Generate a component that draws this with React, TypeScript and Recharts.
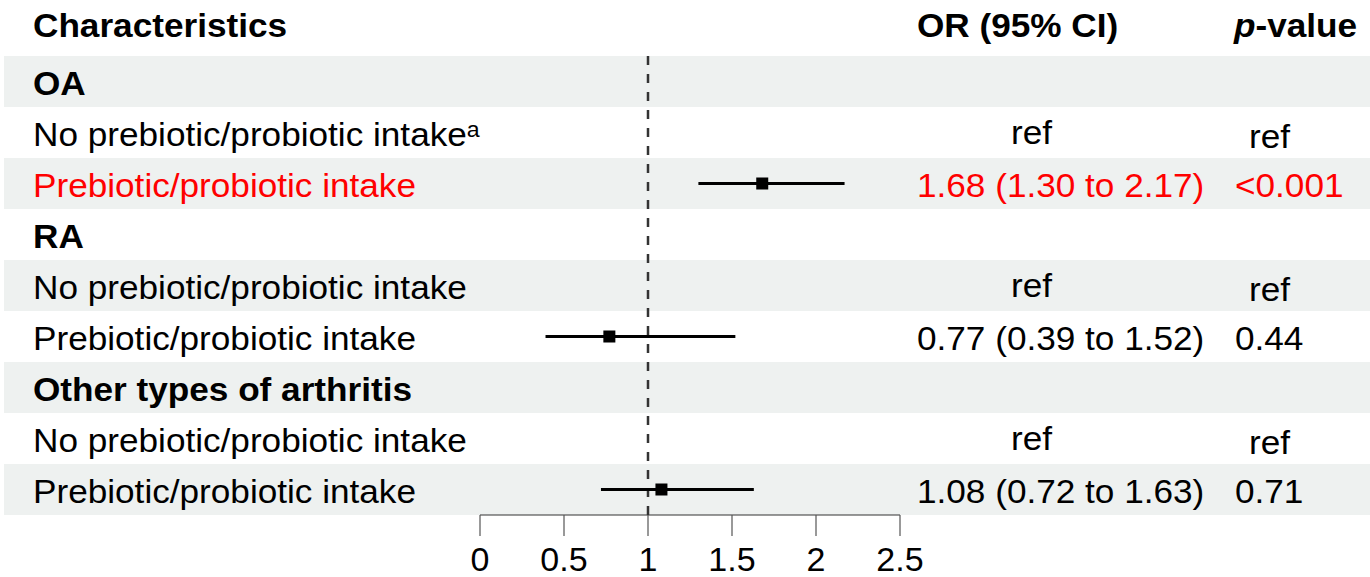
import React from "react"
import { ScatterChart, Scatter, XAxis, YAxis, ReferenceArea, ReferenceLine } from "recharts"

// table rows, top to bottom
const rowLabels = [
  "OA",
  "No prebiotic/probiotic intake",
  "Prebiotic/probiotic intake",
  "RA",
  "No prebiotic/probiotic intake",
  "Prebiotic/probiotic intake",
  "Other types of arthritis",
  "No prebiotic/probiotic intake",
  "Prebiotic/probiotic intake",
]
const groupRows = [true, false, false, true, false, false, true, false, false]
const superscripts = ["", "a", "", "", "", "", "", "", ""]
const orLabels = ["", "ref", "1.68 (1.30 to 2.17)", "", "ref", "0.77 (0.39 to 1.52)", "", "ref", "1.08 (0.72 to 1.63)"]
const pLabels = ["", "ref", "<0.001", "", "ref", "0.44", "", "ref", "0.71"]
const estimates = [null, null, 1.68, null, null, 0.77, null, null, 1.08]
const lowerCI = [null, null, 1.3, null, null, 0.39, null, null, 0.72]
const upperCI = [null, null, 2.17, null, null, 1.52, null, null, 1.63]
const highlighted = [false, false, true, false, false, false, false, false, false]
const shadedRows = [true, false, true, false, true, false, true, false, true]
const headers = ["Characteristics", "OR (95% CI)", "p", "-value"]
const xTicks = [0, 0.5, 1, 1.5, 2, 2.5]

const FONT = "'Liberation Sans', Arial, Helvetica, sans-serif"
const FS = 33.5
const RED = "#ff0000"
const BAND = "#eef1f0"

const points = estimates
  .map((est, i) => ({ est, row: i + 0.5 }))
  .filter((d) => d.est !== null)

const Txt = ({ x, y, fill = "#000", bold = false, children }: any) => (
  <text
    transform={`translate(${x},${y}) scale(1.05,1)`}
    fontFamily={FONT}
    fontSize={FS}
    fontWeight={bold ? "bold" : "normal"}
    fill={fill}
  >
    {children}
  </text>
)

const rowShape = (i: number) => (props: any) => {
  const { y, height } = props
  const base = y + height / 2 + 13
  const color = highlighted[i] ? RED : "#000"
  const isRef = orLabels[i] === "ref"
  return (
    <g>
      {shadedRows[i] && <rect x={4} y={y} width={1366} height={height} fill={BAND} />}
      <Txt x={33} y={base} fill={color} bold={groupRows[i]}>
        {rowLabels[i]}
        {superscripts[i] && (
          <tspan fontSize={22} dy={-9}>
            {superscripts[i]}
          </tspan>
        )}
      </Txt>
      {orLabels[i] && (
        <Txt x={isRef ? 1011 : 917} y={base - (isRef ? 2 : 0)} fill={color}>
          {orLabels[i]}
        </Txt>
      )}
      {pLabels[i] && (
        <Txt x={pLabels[i] === "ref" ? 1249 : 1235} y={base + (pLabels[i] === "ref" ? 2 : 0)} fill={color}>
          {pLabels[i]}
        </Txt>
      )}
    </g>
  )
}

const headerShape = (props: any) => {
  const base = props.y + 32
  return (
    <g>
      <Txt x={33} y={base} bold>
        {headers[0]}
      </Txt>
      <Txt x={917} y={base} bold>
        {headers[1]}
      </Txt>
      <Txt x={1234} y={base} bold>
        <tspan fontStyle="italic">{headers[2]}</tspan>
        {headers[3]}
      </Txt>
    </g>
  )
}

const Square = (props: any) => {
  const { cx, cy } = props
  return <rect x={cx - 6} y={cy - 6} width={12} height={12} fill="#000" />
}

export default function App() {
  return (
    <div style={{ position: "absolute", left: 0, top: 0, background: "#fff" }}>
      <ScatterChart width={1370} height={577} margin={{ top: 5, right: 470, bottom: 0, left: 480 }}>
        <XAxis
          type="number"
          dataKey="est"
          domain={[0, 2.5]}
          ticks={xTicks}
          interval={0}
          height={62}
          tickSize={21}
          tickMargin={11}
          axisLine={{ stroke: "#333", strokeWidth: 1.2 }}
          tickLine={{ stroke: "#555", strokeWidth: 1.2 }}
          tick={{ fill: "#000", fontSize: 34, fontFamily: FONT }}
        />
        <YAxis type="number" dataKey="row" domain={[-1, 9]} reversed hide />
        <ReferenceArea y1={-1} y2={0} ifOverflow="visible" shape={headerShape} />
        {rowLabels.map((_, i) => (
          <ReferenceArea key={i} y1={i} y2={i + 1} ifOverflow="visible" shape={rowShape(i)} />
        ))}
        <ReferenceLine
          segment={[
            { x: 1, y: 0 },
            { x: 1, y: 9 },
          ]}
          stroke="#333"
          strokeWidth={2.5}
          strokeDasharray="9 9"
        />
        {estimates.map((est, i) =>
          est === null ? null : (
            <ReferenceLine
              key={"ci" + i}
              segment={[
                { x: lowerCI[i], y: i + 0.5 },
                { x: upperCI[i], y: i + 0.5 },
              ]}
              stroke="#000"
              strokeWidth={3}
            />
          ),
        )}
        <Scatter data={points} shape={<Square />} isAnimationActive={false} />
      </ScatterChart>
    </div>
  )
}
